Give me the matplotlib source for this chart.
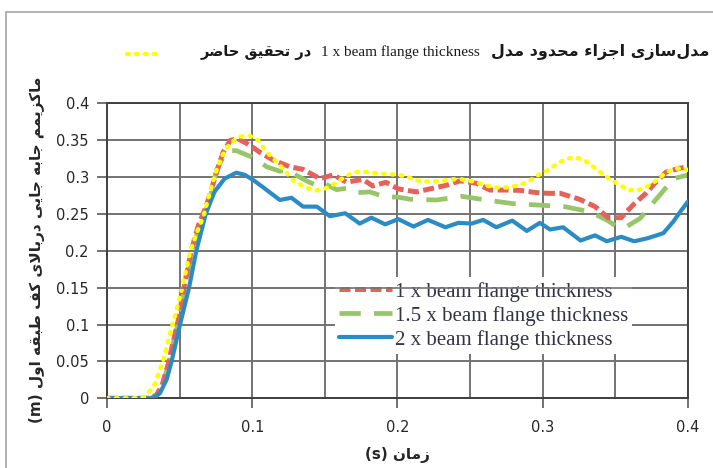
# -*- coding: utf-8 -*-
import numpy as np
import matplotlib
matplotlib.use('Agg')
import matplotlib.pyplot as plt
from matplotlib.patches import Rectangle
from matplotlib.lines import Line2D

# ---------------------------------------------------------------- data
# 1 x beam flange thickness (red, short dash)
t_1x = [0, 0.03, 0.034, 0.038, 0.042, 0.046, 0.049, 0.053, 0.058, 0.063, 0.0686, 0.0744, 0.080, 0.085,
        0.090, 0.096, 0.100, 0.105, 0.1145, 0.126, 0.135, 0.1466, 0.1558, 0.165, 0.176, 0.183, 0.192,
        0.2006, 0.213, 0.2245, 0.2338, 0.243, 0.2546, 0.2636, 0.275, 0.2845, 0.2956, 0.3037, 0.312,
        0.3253, 0.336, 0.345, 0.354, 0.362, 0.371, 0.378, 0.385, 0.394, 0.4]
y_1x = [0, 0, 0.004, 0.018, 0.045, 0.08, 0.105, 0.15, 0.2, 0.235, 0.262, 0.3, 0.334, 0.35,
        0.352, 0.346, 0.341, 0.334, 0.323, 0.314, 0.3105, 0.298, 0.303, 0.293, 0.297, 0.288, 0.293,
        0.284, 0.28, 0.285, 0.289, 0.295, 0.2915, 0.2825, 0.2825, 0.282, 0.279, 0.278, 0.278,
        0.27, 0.26, 0.245, 0.245, 0.262, 0.278, 0.2935, 0.307, 0.312, 0.314]

# 1.5 x beam flange thickness (green, long dash)
t_15x = [0, 0.03, 0.034, 0.038, 0.042, 0.046, 0.0495, 0.0535, 0.0585, 0.064, 0.069, 0.073, 0.0755,
         0.080, 0.0847, 0.089, 0.0939, 0.100, 0.105, 0.110, 0.119, 0.1237, 0.1386, 0.144, 0.149,
         0.158, 0.165, 0.173, 0.181, 0.1913, 0.200, 0.2086, 0.227, 0.244, 0.261, 0.2797, 0.298,
         0.315, 0.3325, 0.344, 0.351, 0.357, 0.367, 0.378, 0.3807, 0.390, 0.4]
y_15x = [0, 0, 0.004, 0.017, 0.043, 0.078, 0.105, 0.15, 0.2, 0.235, 0.26, 0.287, 0.31,
         0.327, 0.336, 0.336, 0.332, 0.327, 0.321, 0.314, 0.308, 0.3096, 0.2937, 0.289, 0.292,
         0.283, 0.285, 0.279, 0.28, 0.273, 0.273, 0.27, 0.269, 0.274, 0.269, 0.264, 0.262,
         0.26, 0.253, 0.2418, 0.233, 0.232, 0.244, 0.27, 0.276, 0.298, 0.303]

# 2 x beam flange thickness (blue, solid)
t_2x = [0, 0.032, 0.0365, 0.041, 0.0445, 0.0503, 0.0565, 0.0615, 0.068, 0.074, 0.081, 0.089, 0.095,
        0.1007, 0.107, 0.1123, 0.119, 0.127, 0.135, 0.1445, 0.1535, 0.164, 0.174, 0.182, 0.1915,
        0.2006, 0.211, 0.221, 0.233, 0.242, 0.251, 0.259, 0.268, 0.279, 0.289, 0.298, 0.305,
        0.314, 0.326, 0.336, 0.344, 0.354, 0.363, 0.372, 0.383, 0.390, 0.395, 0.4]
y_2x = [0, 0, 0.007, 0.025, 0.05, 0.1, 0.15, 0.2, 0.25, 0.28, 0.298, 0.306, 0.303,
        0.296, 0.287, 0.279, 0.269, 0.272, 0.26, 0.26, 0.247, 0.251, 0.237, 0.245, 0.236,
        0.243, 0.233, 0.242, 0.232, 0.238, 0.237, 0.242, 0.232, 0.241, 0.227, 0.238, 0.229,
        0.232, 0.214, 0.221, 0.213, 0.219, 0.213, 0.217, 0.224, 0.24, 0.254, 0.267]

# present study FE model (yellow, dotted)
t_fe = [0, 0.02, 0.025, 0.0314, 0.0331, 0.0388, 0.0423, 0.0457, 0.0503, 0.0537, 0.0571, 0.0617,
        0.0663, 0.0697, 0.0743, 0.079, 0.0847, 0.0916, 0.0985, 0.104, 0.110, 0.1145, 0.120,
        0.1248, 0.129, 0.135, 0.1409, 0.1466, 0.1535, 0.159, 0.164, 0.1696, 0.1754, 0.181,
        0.188, 0.195, 0.2006, 0.206, 0.212, 0.219, 0.2257, 0.2315, 0.237, 0.244, 0.2499,
        0.2556, 0.2625, 0.268, 0.275, 0.281, 0.288, 0.2933, 0.298, 0.304, 0.3096, 0.3153,
        0.321, 0.3268, 0.3325, 0.337, 0.3416, 0.3469, 0.3526, 0.358, 0.3646, 0.370, 0.376,
        0.3807, 0.3865, 0.392, 0.4]
y_fe = [0, 0, 0.001, 0.014, 0.02, 0.052, 0.079, 0.104, 0.138, 0.167, 0.198, 0.224,
        0.246, 0.271, 0.303, 0.328, 0.346, 0.355, 0.356, 0.35, 0.334, 0.325, 0.314,
        0.303, 0.294, 0.288, 0.283, 0.282, 0.287, 0.294, 0.301, 0.306, 0.308, 0.306,
        0.305, 0.304, 0.303, 0.301, 0.296, 0.294, 0.294, 0.295, 0.297, 0.297, 0.295,
        0.292, 0.288, 0.286, 0.286, 0.288, 0.292, 0.298, 0.304, 0.31, 0.318, 0.324,
        0.327, 0.3245, 0.318, 0.31, 0.304, 0.296, 0.29, 0.283, 0.2815, 0.2856, 0.292,
        0.3, 0.308, 0.312, 0.31]

x_ticks = [0, 0.1, 0.2, 0.3, 0.4]
x_tick_labels = ['0', '0.1', '0.2', '0.3', '0.4']
y_ticks = [0, 0.05, 0.1, 0.15, 0.2, 0.25, 0.3, 0.35, 0.4]
y_tick_labels = ['0', '0.05', '0.1', '0.15', '0.2', '0.25', '0.3', '0.35', '0.4']

labels = ['1 x beam flange thickness', '1.5 x beam flange thickness', '2 x beam flange thickness']
title_fa_right = 'مدل‌سازی اجزاء محدود مدل'
title_en = '1 x beam flange thickness'
title_fa_left = 'در تحقیق حاضر'
ylabel_fa = 'ماکزیمم جابه جایی دربالای کف طبقه اول'
xlabel_fa = 'زمان'


# ---------------------------------------------------------------- persian shaping
# (isolated, final, initial, medial) ; two entries -> joins only to the right
FORMS = {
    'ء': ('\uFE80',),
    'ا': ('\uFE8D', '\uFE8E'),
    'ب': ('\uFE8F', '\uFE90', '\uFE91', '\uFE92'),
    'ت': ('\uFE95', '\uFE96', '\uFE97', '\uFE98'),
    'ج': ('\uFE9D', '\uFE9E', '\uFE9F', '\uFEA0'),
    'ح': ('\uFEA1', '\uFEA2', '\uFEA3', '\uFEA4'),
    'د': ('\uFEA9', '\uFEAA'),
    'ر': ('\uFEAD', '\uFEAE'),
    'ز': ('\uFEAF', '\uFEB0'),
    'س': ('\uFEB1', '\uFEB2', '\uFEB3', '\uFEB4'),
    'ض': ('\uFEBD', '\uFEBE', '\uFEBF', '\uFEC0'),
    'ط': ('\uFEC1', '\uFEC2', '\uFEC3', '\uFEC4'),
    'ف': ('\uFED1', '\uFED2', '\uFED3', '\uFED4'),
    'ق': ('\uFED5', '\uFED6', '\uFED7', '\uFED8'),
    'ل': ('\uFEDD', '\uFEDE', '\uFEDF', '\uFEE0'),
    'م': ('\uFEE1', '\uFEE2', '\uFEE3', '\uFEE4'),
    'ن': ('\uFEE5', '\uFEE6', '\uFEE7', '\uFEE8'),
    'ه': ('\uFEE9', '\uFEEA', '\uFEEB', '\uFEEC'),
    'و': ('\uFEED', '\uFEEE'),
    'ی': ('\uFBFC', '\uFBFD', '\uFBFE', '\uFBFF'),
    'ک': ('\uFB8E', '\uFB8F', '\uFB90', '\uFB91'),
}
LAM_ALEF = ('\uFEFB', '\uFEFC')


def shape(txt):
    # lam + alef ligature first
    chars = []
    i = 0
    while i < len(txt):
        if txt[i] == 'ل' and i + 1 < len(txt) and txt[i + 1] == 'ا':
            chars.append('LA')
            i += 2
        else:
            chars.append(txt[i])
            i += 1

    def forms(c):
        if c == 'LA':
            return LAM_ALEF
        return FORMS.get(c)

    out = []
    for k, c in enumerate(chars):
        f = forms(c)
        if f is None:
            if c != '\u200c':
                out.append(c)
            continue
        prev = forms(chars[k - 1]) if k > 0 else None
        nxt = forms(chars[k + 1]) if k + 1 < len(chars) else None
        join_prev = prev is not None and len(prev) == 4
        join_next = len(f) == 4 and nxt is not None and len(nxt) >= 2
        if join_prev and join_next:
            out.append(f[3])
        elif join_prev:
            out.append(f[1])
        elif join_next:
            out.append(f[2])
        else:
            out.append(f[0])
    return ''.join(out)[::-1]


# ---------------------------------------------------------------- plot
plt.rcParams['font.family'] = ['DejaVu Sans']

fig = plt.figure(figsize=(7.13, 4.68), dpi=100)
ax = fig.add_axes([0.150, 0.149, 0.815, 0.630])

# outer border of the pasted chart
fig.patches.append(Rectangle((6 / 713, -0.1), 1.2, 1 - 12 / 468 + 0.1, transform=fig.transFigure,
                             fill=False, edgecolor='#a6a6a6', linewidth=1.2))

ax.plot(t_fe, y_fe, color='#ffff00', linestyle=(0, (0.4, 1.6)), linewidth=3.2,
        dash_capstyle='round', zorder=4)
l1, = ax.plot(t_1x, y_1x, color='#e5625c', linestyle=(0, (2.2, 0.9)), linewidth=3.6, zorder=3)
l2, = ax.plot(t_15x, y_15x, color='#98c56a', linestyle=(0, (4.5, 2.8)), linewidth=3.4, zorder=2)
l3, = ax.plot(t_2x, y_2x, color='#2b8cc4', linewidth=3.0, solid_capstyle='round', zorder=3)

ax.set_xlim(0, 0.4)
ax.set_ylim(0, 0.4)
ax.set_xticks(x_ticks)
ax.set_xticklabels(x_tick_labels)
ax.set_xticks(np.arange(0, 0.41, 0.05), minor=True)
ax.set_yticks(y_ticks)
ax.set_yticklabels(y_tick_labels)
ax.grid(True, which='both', color='#737373', linewidth=1.4)
ax.set_axisbelow(True)
for s in ax.spines.values():
    s.set_color('#404040')
    s.set_linewidth(1.4)
ax.tick_params(axis='x', which='major', length=7, width=1.2, color='#595959', pad=9,
               labelsize=10.5, labelcolor='#262626')
ax.tick_params(axis='x', which='minor', length=0)
ax.tick_params(axis='y', length=7, width=1.2, color='#595959', pad=6,
               labelsize=10.5, labelcolor='#262626')

leg = ax.legend([l1, l2, l3], labels, loc='upper left', bbox_to_anchor=(0.375, 0.445),
                frameon=True, fancybox=False, framealpha=1, edgecolor='none',
                handlelength=2.5, handletextpad=0.15, labelspacing=0.2, borderpad=0.2,
                prop={'family': 'Liberation Serif', 'size': 15})
for txt in leg.get_texts():
    txt.set_color('#333344')
ax.axhline(0.15, color='#737373', linewidth=1.2, zorder=6)

# axis titles
fig.text(37 / 713, 1 - 250 / 468, '(m) ' + shape(ylabel_fa), rotation=90, ha='center', va='center',
         fontsize=11, fontweight='bold', color='#262626')
fig.text(397 / 713, 1 - 455 / 468, '(s) ' + shape(xlabel_fa), ha='center', va='center',
         fontsize=11, fontweight='bold', color='#262626')

# top legend line for the present study model
ty = 1 - 52 / 468
fig.text(709 / 713, ty, shape(title_fa_right), ha='right', va='center', fontsize=11.5,
         fontweight='bold', color='#1a1a1a')
fig.text(480 / 713, ty, title_en, ha='right', va='center', fontsize=11,
         family='Liberation Serif', color='#1a1a1a')
fig.text(312 / 713, ty, shape(title_fa_left), ha='right', va='center', fontsize=10.5,
         fontweight='bold', color='#1a1a1a')
fig.lines.append(Line2D([127 / 713, 162 / 713], [1 - 54 / 468, 1 - 54 / 468], transform=fig.transFigure,
                        color='#ffff00', linestyle=(0, (0.4, 1.6)), linewidth=3.2,
                        dash_capstyle='round'))

fig.savefig('out.png', dpi=100)
